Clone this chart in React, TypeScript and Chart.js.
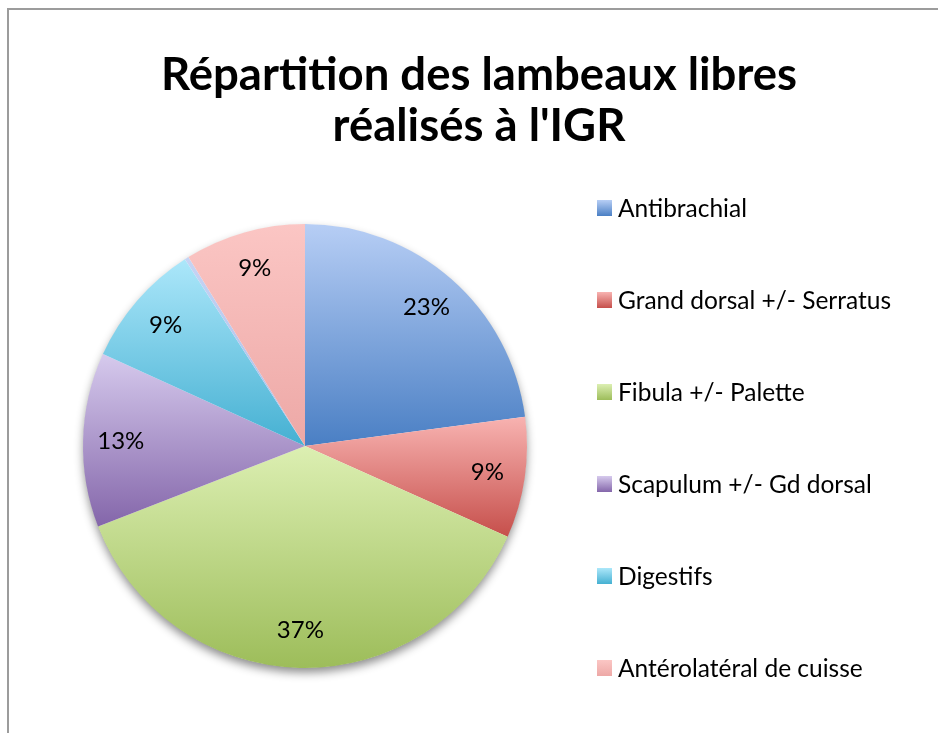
import React, { useEffect, useRef } from "react";
import { Chart, registerables } from "chart.js";

Chart.register(...registerables);

const categories = [
  "Antibrachial",
  "Grand dorsal +/- Serratus",
  "Fibula +/- Palette",
  "Scapulum +/- Gd dorsal",
  "Digestifs",
  "",
  "Antérolatéral de cuisse",
];
const shares = [22.9, 8.8, 37.4, 12.7, 9.1, 0.3, 8.8];
const topColors = ["#b7cef5", "#f8b3b1", "#dcefb2", "#d6caed", "#ace7fa", "#c6d4f4", "#fbc6c4"];
const bottomColors = ["#4a7fc4", "#c64f4b", "#9dbd5a", "#8466aa", "#45b0d2", "#a7bce8", "#eda8a6"];
const titleLines = ["Répartition des lambeaux libres", "réalisés à l'IGR"];

const FONT = "Lato, 'Open Sans', sans-serif";

function sliceGradient(chart: any, i: number) {
  const area = chart.chartArea;
  if (!area) return bottomColors[i];
  const cx = (area.left + area.right) / 2;
  const cy = (area.top + area.bottom) / 2;
  const r = Math.min(area.right - area.left, area.bottom - area.top) / 2;
  const total = shares.reduce((a, b) => a + b, 0);
  let before = 0;
  for (let k = 0; k < i; k++) before += shares[k];
  const a0 = -Math.PI / 2 + (before / total) * Math.PI * 2;
  const a1 = -Math.PI / 2 + ((before + shares[i]) / total) * Math.PI * 2;
  let minY = cy;
  let maxY = cy;
  const steps = 60;
  for (let s = 0; s <= steps; s++) {
    const a = a0 + ((a1 - a0) * s) / steps;
    const y = cy + r * Math.sin(a);
    if (y < minY) minY = y;
    if (y > maxY) maxY = y;
  }
  if (maxY - minY < 1) maxY = minY + 1;
  const g = chart.ctx.createLinearGradient(0, minY, 0, maxY);
  g.addColorStop(0, topColors[i]);
  g.addColorStop(1, bottomColors[i]);
  return g;
}

const shadowPlugin = {
  id: "pieShadow",
  beforeDatasetsDraw(chart: any) {
    const arc = chart.getDatasetMeta(0).data[0];
    if (!arc) return;
    const { x, y, outerRadius } = arc.getProps(["x", "y", "outerRadius"], true);
    const ctx = chart.ctx;
    ctx.save();
    ctx.shadowColor = "rgba(0,0,0,0.45)";
    ctx.shadowBlur = 10;
    ctx.shadowOffsetY = 5;
    ctx.fillStyle = "#ffffff";
    ctx.beginPath();
    ctx.arc(x, y, outerRadius - 0.5, 0, Math.PI * 2);
    ctx.fill();
    ctx.restore();
  },
};

const labelPlugin = {
  id: "sliceLabels",
  afterDatasetsDraw(chart: any) {
    const ctx = chart.ctx;
    const meta = chart.getDatasetMeta(0);
    const data = chart.data.datasets[0].data as number[];
    const total = data.reduce((a, b) => a + b, 0);
    ctx.save();
    ctx.font = `24px ${FONT}`;
    ctx.fillStyle = "#000000";
    ctx.textAlign = "center";
    ctx.textBaseline = "middle";
    meta.data.forEach((el: any, i: number) => {
      if (!chart.data.labels[i]) return;
      const { x, y, startAngle, endAngle, outerRadius } = el.getProps(
        ["x", "y", "startAngle", "endAngle", "outerRadius"],
        true
      );
      const mid = (startAngle + endAngle) / 2;
      const rr = outerRadius * 0.83;
      const txt = Math.round((data[i] / total) * 100) + "%";
      ctx.fillText(txt, x + Math.cos(mid) * rr, y + Math.sin(mid) * rr);
    });
    ctx.restore();
  },
};

const titleLegendPlugin = {
  id: "titleLegend",
  afterDraw(chart: any) {
    const ctx = chart.ctx;
    const area = chart.chartArea;
    ctx.save();
    // title
    ctx.font = `bold 45.5px ${FONT}`;
    ctx.fillStyle = "#000000";
    ctx.textAlign = "center";
    ctx.textBaseline = "alphabetic";
    ctx.fillText(titleLines[0], 479, 90);
    ctx.fillText(titleLines[1], 479, 141);
    // legend
    const boxX = area.right + 70;
    let row = 0;
    ctx.font = `24.5px ${FONT}`;
    ctx.textAlign = "left";
    ctx.textBaseline = "middle";
    (chart.data.labels as string[]).forEach((lab, i) => {
      if (!lab) return;
      const cy = 208 + row * 92;
      const g = ctx.createLinearGradient(0, cy - 8, 0, cy + 8);
      g.addColorStop(0, topColors[i]);
      g.addColorStop(1, bottomColors[i]);
      ctx.fillStyle = g;
      ctx.fillRect(boxX, cy - 8, 15, 16);
      ctx.fillStyle = "#000000";
      ctx.fillText(lab, boxX + 21, cy + 1);
      row++;
    });
    ctx.restore();
  },
};

export default function App() {
  const ref = useRef<HTMLCanvasElement | null>(null);
  useEffect(() => {
    if (!ref.current) return;
    const chart = new Chart(ref.current, {
      type: "pie",
      data: {
        labels: categories,
        datasets: [
          {
            data: shares,
            backgroundColor: (c: any) => sliceGradient(c.chart, c.dataIndex),
            borderWidth: 0,
            hoverBorderWidth: 0,
            hoverOffset: 0,
            offset: 0,
          } as any,
        ],
      },
      options: {
        responsive: false,
        maintainAspectRatio: false,
        animation: false,
        events: [],
        layout: { padding: { left: 83, right: 411, top: 224, bottom: 65 } },
        plugins: {
          legend: { display: false },
          title: { display: false },
          tooltip: { enabled: false },
        },
      },
      plugins: [shadowPlugin, labelPlugin, titleLegendPlugin],
    });
    return () => chart.destroy();
  }, []);
  return (
    <div
      style={{
        position: "fixed",
        left: 0,
        top: 0,
        width: 938,
        height: 733,
        background: "#ffffff",
        overflow: "hidden",
      }}
    >
      <div
        style={{
          position: "absolute",
          left: 7,
          top: 8,
          width: 960,
          height: 760,
          borderTop: "2px solid #9c9c9c",
          borderLeft: "2px solid #9c9c9c",
        }}
      />
      <canvas
        ref={ref}
        width={938}
        height={733}
        style={{ position: "absolute", left: 0, top: 0, width: 938, height: 733 }}
      />
    </div>
  );
}
